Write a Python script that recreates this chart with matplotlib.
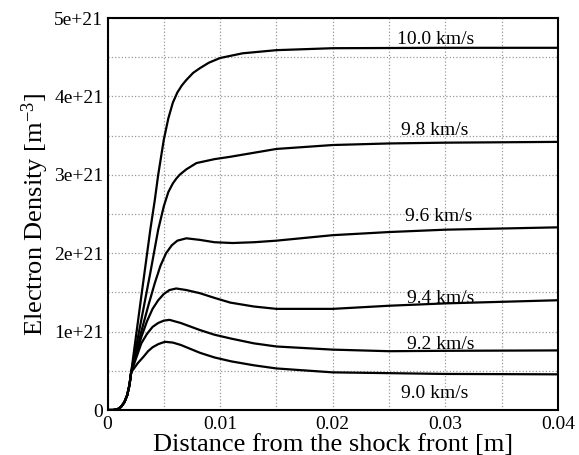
import numpy as np
import matplotlib.pyplot as plt
from matplotlib.ticker import MultipleLocator

# -----------------------------
# Data (x in m, density in units of 1e21 m^-3)
# -----------------------------
foot_x = [0.0, 0.0005, 0.0009, 0.0012, 0.0015, 0.00175, 0.00195, 0.0021]
foot_y = [0.0, 0.0, 0.01, 0.04, 0.10, 0.19, 0.32, 0.48]

x_100 = [0.0030, 0.0038, 0.0042, 0.0045, 0.0050, 0.0054, 0.0058, 0.0062, 0.0066, 0.0070, 0.0076, 0.0082, 0.009, 0.010, 0.012, 0.015, 0.020, 0.030, 0.040]
y_100 = [1.45, 2.30, 2.68, 3.00, 3.45, 3.72, 3.92, 4.05, 4.14, 4.21, 4.30, 4.36, 4.43, 4.49, 4.55, 4.59, 4.615, 4.62, 4.62]

x_98 = [0.0030, 0.0038, 0.0045, 0.0050, 0.0054, 0.0058, 0.0061, 0.0064, 0.0070, 0.0079, 0.0095, 0.0109, 0.015, 0.020, 0.025, 0.030, 0.040]
y_98 = [1.15, 1.75, 2.30, 2.60, 2.78, 2.89, 2.95, 3.00, 3.07, 3.15, 3.20, 3.23, 3.33, 3.38, 3.40, 3.41, 3.42]

x_96 = [0.0030, 0.0036, 0.0042, 0.0047, 0.0052, 0.0057, 0.0062, 0.0070, 0.0082, 0.0095, 0.0111, 0.013, 0.015, 0.020, 0.025, 0.030, 0.040]
y_96 = [1.00, 1.32, 1.62, 1.84, 2.00, 2.10, 2.16, 2.19, 2.17, 2.14, 2.13, 2.14, 2.16, 2.23, 2.27, 2.30, 2.33]

x_94 = [0.0030, 0.0035, 0.0040, 0.0045, 0.0050, 0.0055, 0.0061, 0.0070, 0.0082, 0.0095, 0.0109, 0.013, 0.015, 0.020, 0.025, 0.030, 0.040]
y_94 = [0.93, 1.13, 1.29, 1.40, 1.48, 1.53, 1.55, 1.53, 1.49, 1.43, 1.37, 1.32, 1.29, 1.29, 1.33, 1.36, 1.40]

x_92 = [0.0030, 0.0035, 0.0040, 0.0045, 0.0050, 0.0055, 0.0065, 0.0082, 0.0095, 0.011, 0.013, 0.015, 0.020, 0.025, 0.030, 0.040]
y_92 = [0.85, 0.97, 1.06, 1.11, 1.14, 1.15, 1.11, 1.02, 0.96, 0.91, 0.85, 0.81, 0.77, 0.75, 0.755, 0.76]

x_90 = [0.0027, 0.0032, 0.0036, 0.0040, 0.0045, 0.0051, 0.0058, 0.0065, 0.0082, 0.0095, 0.011, 0.013, 0.015, 0.020, 0.025, 0.030, 0.040]
y_90 = [0.60, 0.68, 0.75, 0.80, 0.84, 0.87, 0.86, 0.83, 0.73, 0.67, 0.62, 0.57, 0.53, 0.48, 0.47, 0.46, 0.455]

curves = [(x_100, y_100), (x_98, y_98), (x_96, y_96), (x_94, y_94), (x_92, y_92), (x_90, y_90)]

labels = ['10.0 km/s', '9.8 km/s', '9.6 km/s', '9.4 km/s', '9.2 km/s', '9.0 km/s']
label_x = [0.0257, 0.0261, 0.0264, 0.0266, 0.0266, 0.0261]
label_y = [4.67, 3.51, 2.41, 1.36, 0.78, 0.15]

# -----------------------------
# Plot
# -----------------------------
plt.rcParams['font.family'] = ['Liberation Serif', 'DejaVu Serif']
plt.rcParams['mathtext.default'] = 'regular'

fig = plt.figure(figsize=(5.79, 4.55), dpi=100)
ax = fig.add_axes([0.1857, 0.0989, 0.9637 - 0.1857, 0.9604 - 0.0989])

for cx, cy in curves:
    xs = np.array(foot_x + cx)
    ys = np.array(foot_y + cy) * 1e21
    ax.plot(xs, ys, color='black', lw=1.6, solid_joinstyle='round')

for txt, tx, ty in zip(labels, label_x, label_y):
    ax.text(tx, ty * 1e21, txt, fontsize=14, ha='left', va='baseline')

ax.set_xlim(0, 0.04)
ax.set_ylim(0, 5e21)
ax.xaxis.set_minor_locator(MultipleLocator(0.005))
ax.yaxis.set_minor_locator(MultipleLocator(0.5e21))
ax.set_xticks([0, 0.01, 0.02, 0.03, 0.04], ['0', '0.01', '0.02', '0.03', '0.04'])
ax.set_yticks([0, 1e21, 2e21, 3e21, 4e21, 5e21], ['0', '1e+21', '2e+21', '3e+21', '4e+21', '5e+21'])

ax.grid(True, which='both', linestyle=':', color='#999999', lw=0.9)
ax.tick_params(which='both', length=0, labelsize=14)
ax.tick_params(axis='x', pad=4)
ax.tick_params(axis='y', pad=3)
for s in ax.spines.values():
    s.set_linewidth(1.5)

ax.set_xlabel('Distance from the shock front [m]', fontsize=19, labelpad=1)
ax.set_ylabel('Electron Density [m$^{-3}$]', fontsize=19, labelpad=2)

plt.savefig('out.png', dpi=100)
